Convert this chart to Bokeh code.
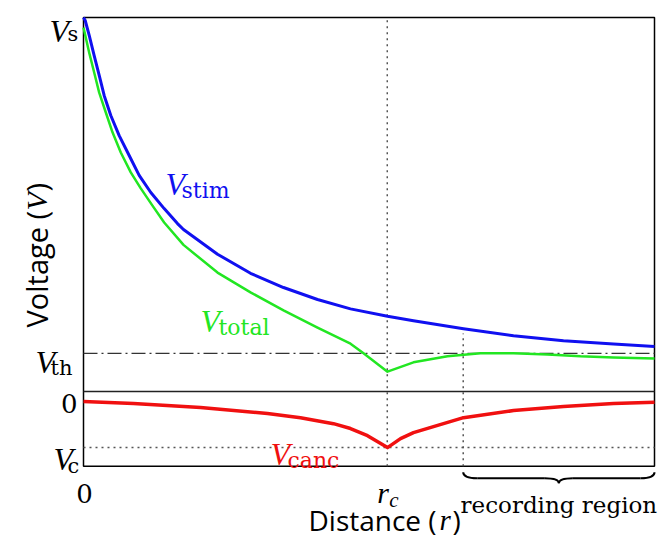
import math
from bokeh.plotting import figure
from bokeh.models import Range1d
from bokeh.core.properties import value
from bokeh.embed import file_html
from bokeh.resources import INLINE

# ---------------- data (distance normalised to 0..1, voltage so that V_s = 1) -------------
r_stim = [0.000, 0.0030, 0.0100, 0.0187, 0.0275, 0.0363, 0.0478, 0.0625, 0.0800, 0.0975,
          0.1179, 0.1413, 0.1646, 0.1751, 0.2347, 0.2925, 0.3503, 0.4098, 0.4676, 0.5324,
          0.5779, 0.6655, 0.7531, 0.8406, 0.9282, 1.000]
v_stim = [1.000, 0.992, 0.952, 0.898, 0.845, 0.791, 0.738, 0.684, 0.631, 0.578,
          0.532, 0.489, 0.449, 0.433, 0.367, 0.316, 0.278, 0.246, 0.221, 0.201,
          0.189, 0.168, 0.149, 0.136, 0.127, 0.120]

r_total = [0.000, 0.0012, 0.0100, 0.0187, 0.0275, 0.0391, 0.0508, 0.0653, 0.0828, 0.1003,
           0.1208, 0.1413, 0.1751, 0.2347, 0.2925, 0.3503, 0.4098, 0.4676, 0.4904, 0.5324,
           0.5779, 0.6375, 0.6953, 0.7531, 0.8126, 0.8704, 0.9282, 1.000]
v_total = [0.973, 0.965, 0.906, 0.853, 0.799, 0.746, 0.693, 0.639, 0.586, 0.543,
           0.497, 0.452, 0.392, 0.318, 0.265, 0.217, 0.171, 0.128, 0.102, 0.053,
           0.078, 0.094, 0.102, 0.102, 0.099, 0.094, 0.091, 0.088]

r_canc = [0.000, 0.0876, 0.2049, 0.3222, 0.3800, 0.4378, 0.4676, 0.4974, 0.5324, 0.5552,
          0.5779, 0.6655, 0.7531, 0.8406, 0.9282, 1.000]
v_canc = [-0.027, -0.032, -0.043, -0.059, -0.070, -0.086, -0.099, -0.118, -0.150, -0.126,
          -0.110, -0.070, -0.051, -0.040, -0.032, -0.029]

V_S = 1.0        # stimulus voltage (top)
V_TH = 0.102     # threshold
V_C = -0.150     # cancelling voltage minimum
R_C = 0.532      # cancelling electrode position
R_REC = 0.665    # start of recording region
R_MAX = 1.0
V_MIN = -0.20
REC_TOP = 0.155  # top of recording-region marker

# ---------------- figure -----------------------------------------------------------------
W, H = 663, 539
PXX = 571.0      # pixels per x unit
PXY = 374.0      # pixels per y unit
LEFT, TOP = 83, 17

p = figure(width=W, height=H, output_backend="svg", toolbar_location=None,
           x_axis_type=None, y_axis_type=None, min_border=0,
           x_range=Range1d(-LEFT / PXX, (W - LEFT) / PXX),
           y_range=Range1d(V_S - (H - TOP) / PXY, V_S + TOP / PXY))
p.outline_line_color = None
p.grid.visible = False
p.background_fill_color = "white"
p.border_fill_color = "white"

# plot box
p.quad(left=[0], right=[R_MAX], bottom=[V_MIN], top=[V_S], fill_color=None,
       line_color="black", line_width=1.5)

# reference lines
p.line([0, R_MAX], [0, 0], line_color="#222222", line_width=1.5)
p.line([0, R_MAX], [V_TH, V_TH], line_color="#333333", line_width=1.3, line_dash="14 4 2 4")
p.line([0, R_MAX], [V_C, V_C], line_color="#555555", line_width=1.5, line_dash="2 4")
p.line([R_C, R_C], [V_MIN, V_S], line_color="#555555", line_width=1.5, line_dash="2 4")
p.line([R_REC, R_REC], [V_MIN, REC_TOP], line_color="#555555", line_width=1.5, line_dash="2 4")

# curves
p.line(r_canc, v_canc, line_color="#f01010", line_width=3.5, line_join="round")
p.line(r_total, v_total, line_color="#22e622", line_width=2.5, line_join="round")
p.line(r_stim, v_stim, line_color="#1010f0", line_width=3, line_join="round")

# brace below recording region
dx1 = 14 / PXX
xm = (R_REC + R_MAX) / 2
y_top = V_MIN - 6 / PXY
y_mid = V_MIN - 12 / PXY
y_tip = V_MIN - 17 / PXY
p.quadratic(x0=[R_REC, R_MAX], y0=[y_top, y_top], x1=[R_REC + dx1, R_MAX - dx1], y1=[y_mid, y_mid],
            cx=[R_REC, R_MAX], cy=[y_mid, y_mid], line_color="black", line_width=2)
p.segment(x0=[R_REC + dx1, xm + dx1], y0=[y_mid, y_mid], x1=[xm - dx1, R_MAX - dx1], y1=[y_mid, y_mid],
          line_color="black", line_width=2)
p.quadratic(x0=[xm - dx1, xm + dx1], y0=[y_mid, y_mid], x1=[xm, xm], y1=[y_tip, y_tip],
            cx=[xm, xm], cy=[y_mid, y_mid], line_color="black", line_width=2)

# ---------------- texts ------------------------------------------------------------------
SERIF_I = "Liberation Serif"
SERIF = "DejaVu Serif"
SANS = "Open Sans"


def put(ax, ay, dx, dy, txt, font, size, style="normal", color="black", align="left", angle=0.0):
    p.text(x=[ax + dx / PXX], y=[ay - dy / PXY], text=[txt], text_font=value(font),
           text_font_size=f"{size}px", text_font_style=style, text_color=color,
           text_align=align, text_baseline="alphabetic", angle=angle)


# y tick labels
put(0, V_S, -34, 13, "V", SERIF_I, 32, "italic")
put(0, V_S, -16, 16, "s", SERIF, 21)
put(0, V_TH, -48, 9, "V", SERIF_I, 32, "italic")
put(0, V_TH, -33, 15, "th", SERIF, 21)
put(0, 0, -6, 12, "0", SERIF, 26, align="right")
put(0, V_C, -30, 11, "V", SERIF_I, 32, "italic")
put(0, V_C, -16, 18, "c", SERIF, 21)

# x tick labels
put(0, V_MIN, 1, 27, "0", SERIF, 26, align="center")
put(R_C, V_MIN, -10, 26, "r", SERIF_I, 30, "italic")
put(R_C, V_MIN, 2, 34, "c", SERIF_I, 21, "italic")

# axis titles
put(0, V_MIN, 225, 54, "Distance (", SANS, 28)
put(0, V_MIN, 356, 54, "r", SERIF_I, 29, "italic")
put(0, V_MIN, 369, 54, ")", SANS, 28)

put(0, 0, -47, -64, "Voltage (", SANS, 29, angle=math.pi / 2)
put(0, 0, -47, -181, "V", SERIF_I, 30, "italic", angle=math.pi / 2)
put(0, 0, -47, -200, ")", SANS, 29, angle=math.pi / 2)

# curve labels
put(0, 0, 82, -208, "V", SERIF_I, 32, "italic", color="#1010f0")
put(0, 0, 98, -201, "stim", SERIF, 22, color="#1010f0")
put(0, 0, 117, -71, "V", SERIF_I, 32, "italic", color="#22e622")
put(0, 0, 135, -64, "total", SERIF, 22, color="#22e622")
put(0, 0, 187, 62, "V", SERIF_I, 32, "italic", color="#f01010")
put(0, 0, 204, 69, "canc", SERIF, 22, color="#f01010")

# recording region label
put(xm, V_MIN, 0, 39, "recording region", SERIF, 23, align="center")

open("out.html", "w").write(file_html(p, INLINE))
